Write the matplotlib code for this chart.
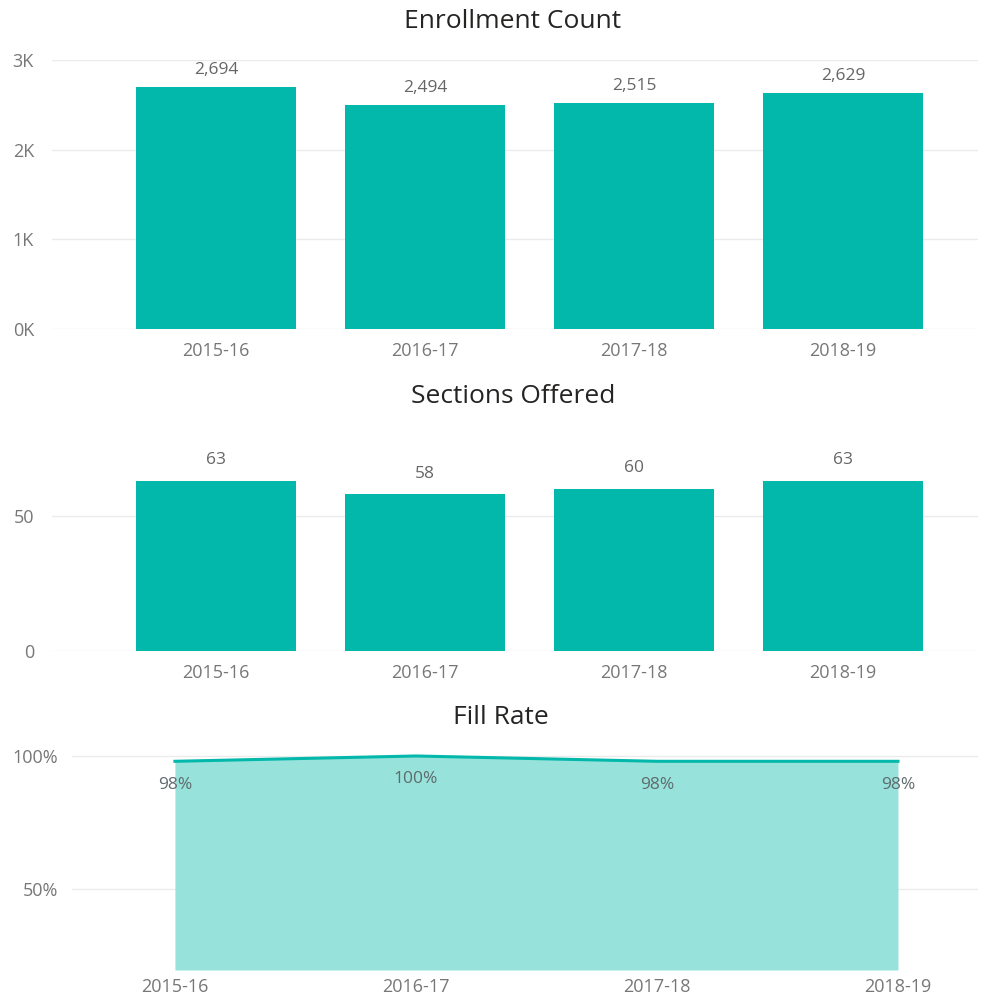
import matplotlib
matplotlib.use("Agg")
import matplotlib.pyplot as plt
from matplotlib.ticker import FuncFormatter

plt.rcParams['font.family'] = ['Open Sans', 'DejaVu Sans']

years = ["2015-16", "2016-17", "2017-18", "2018-19"]
enrollment = [2694, 2494, 2515, 2629]
sections = [63, 58, 60, 63]
fill_rate = [98, 100, 98, 98]

TEAL = "#01B8AA"
FILL = "#97E2DA"
TICK = "#777777"
GRID = "#EBEBEB"
TITLE = "#252423"
LABEL = "#666666"

W, H = 981, 996
fig = plt.figure(figsize=(W / 100, H / 100), dpi=100)


def frame(left, top, right, bottom):
    return [left / W, 1 - bottom / H, (right - left) / W, (bottom - top) / H]


def style(ax, ypad, xpad=9):
    for s in ax.spines.values():
        s.set_visible(False)
    ax.grid(axis='y', color=GRID, linewidth=1)
    ax.set_axisbelow(True)
    ax.tick_params(axis='both', length=0, colors=TICK, labelsize=13)
    ax.tick_params(axis='y', pad=ypad)
    ax.tick_params(axis='x', pad=xpad)


def title(text, xc, yc):
    fig.text(xc / W, 1 - yc / H, text, fontsize=19, color=TITLE,
             ha='center', va='center')


# Enrollment Count
x = list(range(len(years)))
ax1 = fig.add_axes(frame(52, 60, 978, 329))
ax1.bar(x, enrollment, width=0.766, color=TEAL)
ax1.set_ylim(0, 3000)
ax1.set_xlim(-0.785, 3.646)
ax1.set_yticks([0, 1000, 2000, 3000])
ax1.yaxis.set_major_formatter(FuncFormatter(lambda v, p: f"{int(v/1000)}K"))
ax1.set_xticks(x)
ax1.set_xticklabels(years)
style(ax1, 13)
title("Enrollment Count", 513, 21)
for xi, v in zip(x, enrollment):
    ax1.annotate(f"{v:,}", (xi, v), xytext=(0, 7), textcoords='offset points',
                 ha='center', va='bottom', fontsize=12.5, color=LABEL)

# Sections Offered
ax2 = fig.add_axes(frame(52, 462, 978, 651))
ax2.bar(x, sections, width=0.766, color=TEAL)
ax2.set_ylim(0, 70)
ax2.set_xlim(-0.785, 3.646)
ax2.set_yticks([0, 50])
ax2.set_xticks(x)
ax2.set_xticklabels(years)
style(ax2, 13)
title("Sections Offered", 513, 396)
for xi, v in zip(x, sections):
    ax2.annotate(f"{v}", (xi, v), xytext=(0, 9), textcoords='offset points',
                 ha='center', va='bottom', fontsize=12.5, color=LABEL)

# Fill Rate
ax3 = fig.add_axes(frame(72, 748, 978, 970))
ybot = 19.5
ax3.fill_between(x, fill_rate, ybot, color=FILL, linewidth=0)
ax3.plot(x, fill_rate, color=TEAL, linewidth=2.2)
ax3.set_ylim(ybot, 103)
ax3.set_xlim(-0.427, 3.332)
ax3.set_yticks([50, 100])
ax3.yaxis.set_major_formatter(FuncFormatter(lambda v, p: f"{int(v)}%"))
ax3.set_xticks(x)
ax3.set_xticklabels(years)
style(ax3, 10, xpad=6)
title("Fill Rate", 501, 718)
for xi, v in zip(x, fill_rate):
    ax3.annotate(f"{v}%", (xi, v), xytext=(0, -11), textcoords='offset points',
                 ha='center', va='top', fontsize=12.5, color="#5F6B6D")

fig.savefig("out.png", dpi=100, facecolor="white")
